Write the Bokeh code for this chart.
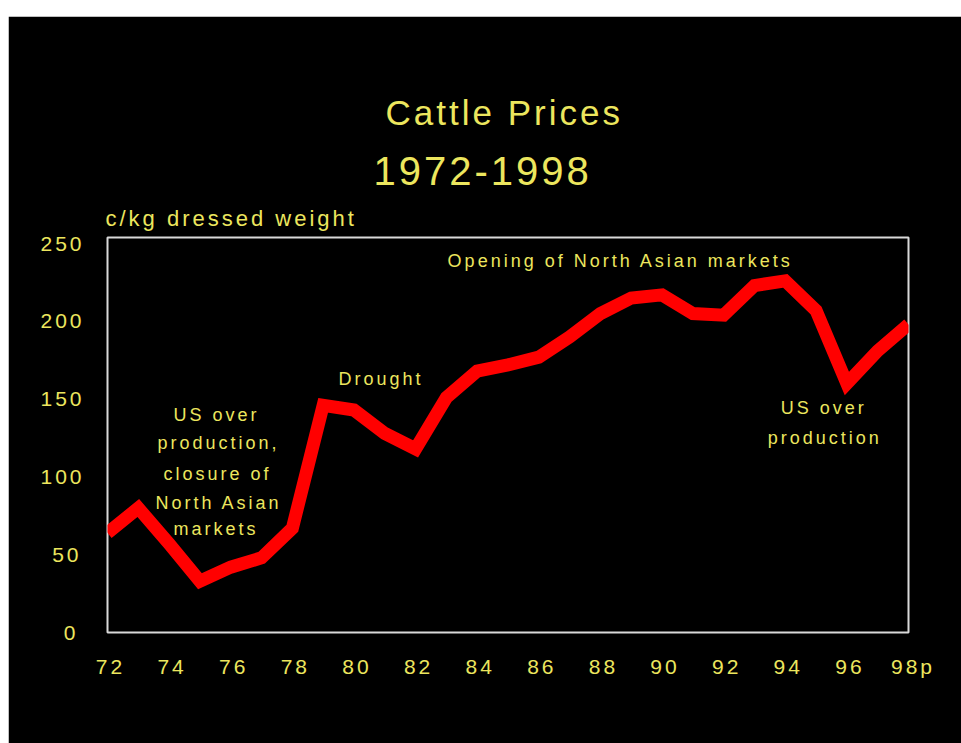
from bokeh.plotting import figure
from bokeh.models import Range1d, FixedTicker, Label, Spacer, Title
from bokeh.layouts import column, row
from bokeh.embed import file_html
from bokeh.resources import INLINE

# ---- data ----
years = list(range(72, 99))
price = [64, 80, 57, 33, 42, 48, 67, 146, 143, 128, 118, 151, 168, 172, 177,
         190, 205, 215, 217, 205, 204, 223, 226, 207, 160, 181, 198]
x_ticks = list(range(72, 99, 2))
x_tick_labels = ["72", "74", "76", "78", "80", "82", "84", "86", "88", "90",
                 "92", "94", "96", "98p"]
y_ticks = [0, 50, 100, 150, 200, 250]

title_lines = ["Cattle Prices", "1972-1998"]
y_label = "c/kg dressed weight"
note_left = ["US over", "production,", "closure of", "North Asian", "markets"]
note_drought = "Drought"
note_opening = "Opening of North Asian markets"
note_right = ["US over", "production"]

YELLOW = "#ECE65E"
FONT = "Liberation Sans"

p = figure(width=953, height=727, output_backend="svg", toolbar_location=None,
           x_range=Range1d(72, 98), y_range=Range1d(0, 253.9),
           background_fill_color="black", border_fill_color="black",
           min_border_left=99, min_border_right=53, min_border_top=221,
           min_border_bottom=111)
p.outline_line_color = "#d9d9d9"
p.outline_line_width = 2
p.grid.visible = False

p.line(years, price, line_color="#FF0000", line_width=13, line_join="miter")

for ax in (p.xaxis, p.yaxis):
    ax.axis_line_color = None
    ax.major_tick_line_color = None
    ax.minor_tick_line_color = None
    ax.major_tick_out = 0
    ax.major_tick_in = 0
    ax.major_label_text_color = YELLOW
    ax.major_label_text_font = FONT
    ax.major_label_text_font_size = "21px"

p.xaxis.ticker = FixedTicker(ticks=x_ticks)
p.xaxis.major_label_overrides = {t: s for t, s in zip(x_ticks, x_tick_labels)}
p.xaxis.major_label_standoff = 22
p.yaxis.ticker = FixedTicker(ticks=y_ticks)
p.yaxis.major_label_standoff = 32

# texts above the frame: stacked titles (first added is nearest the frame)
def top(text, size, offset, standoff):
    p.add_layout(Title(text=text, align="left", offset=offset, standoff=standoff,
                       text_color=YELLOW, text_font=FONT, text_font_size=size,
                       text_font_style="normal"), "above")

top(y_label, "22px", -2, 14)
top(title_lines[1], "40px", 266, 24)
top(title_lines[0], "35px", 278, 22)

def lab(x, y, text, size):
    p.add_layout(Label(x=x, y=y, text=text, text_align="left",
                       text_baseline="middle", text_color=YELLOW,
                       text_font=FONT, text_font_size=size))

left_x = [74.14, 73.62, 73.82, 73.56, 74.14]
left_y = [139.5, 121.5, 102.2, 83.5, 66.8]
for t, x, y in zip(note_left, left_x, left_y):
    lab(x, y, t, "18px")
lab(79.5, 163.2, note_drought, "18px")
lab(83.04, 239.1, note_opening, "18px")
lab(93.85, 144.0, note_right[0], "18px")
lab(93.43, 125.3, note_right[1], "18px")

p.stylesheets = [":host { letter-spacing: 3px; }"]

layout = column(Spacer(width=961, height=16), row(Spacer(width=8, height=727), p))
open("out.html", "w").write(file_html(layout, INLINE))
